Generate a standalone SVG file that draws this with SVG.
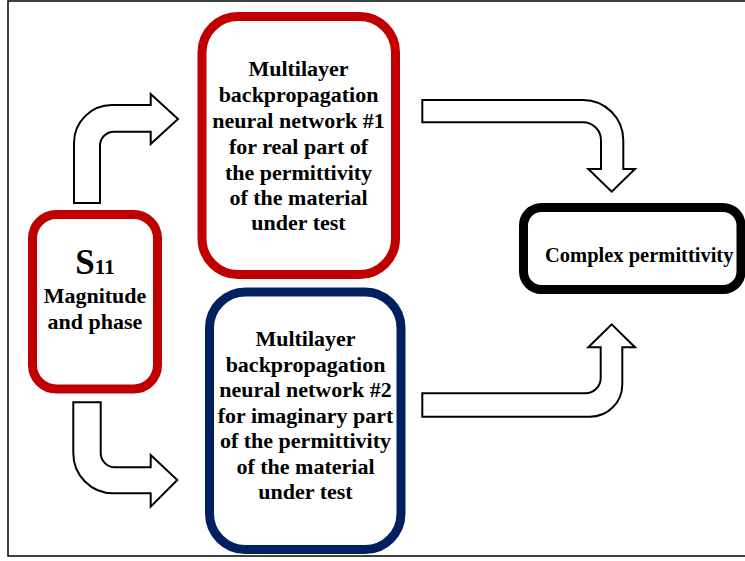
<svg xmlns="http://www.w3.org/2000/svg" width="745" height="561" viewBox="0 0 745 561">
<style>
.t{font-family:"Liberation Serif","Times New Roman",serif;font-weight:bold;font-size:22px;fill:#000;text-anchor:middle}
.arr{fill:#fff;stroke:#000;stroke-width:2;stroke-linejoin:miter}
</style>
<rect x="0" y="0" width="745" height="561" fill="#fff"/>
<rect x="8" y="1" width="800" height="555" fill="none" stroke="#000" stroke-width="1.5"/>
<g id="connectors">
<path class="arr" d="M74,203 V143 A38,38 0 0 1 112,105 H150.7 V94 L178,119 L150.7,144 V131.7 H114 A14,14 0 0 0 100,145.7 V203 Z"/>
<path class="arr" d="M73.3,402.3 V453 A40,40 0 0 0 113.3,493.3 H150.7 V506.7 L177.3,480 L150.7,455 V467.3 H115 A14.3,14.3 0 0 1 100.7,453 V402.3 Z"/>
<path class="arr" d="M422.3,100 H583 A40.3,40.3 0 0 1 623.3,140.3 V169 H635 L611.7,191.7 L588.3,169 H601 V140.3 A18,18 0 0 0 583,122.3 H422.3 Z"/>
<path class="arr" d="M422.3,416.7 H590 A32.3,32.3 0 0 0 622.3,384.4 V347.3 H635 L611.7,324.3 L588.3,347.3 H600.7 V378 A15.3,15.3 0 0 1 585.4,393.3 H422.3 Z"/>
</g>
<g id="s11">
<rect x="32.5" y="214.5" width="125" height="174.5" rx="24" fill="#fff" stroke="#C00000" stroke-width="9"/>
<text class="t" x="95" y="274"><tspan font-size="35">S</tspan><tspan font-size="21">11</tspan></text>
<text class="t" x="95" y="303">Magnitude</text>
<text class="t" x="95" y="329">and phase</text>
</g>
<g id="nn1">
<rect x="202" y="16.5" width="193.5" height="258" rx="36" fill="#fff" stroke="#C00000" stroke-width="9"/>
<text class="t" x="298.5" y="76">Multilayer</text>
<text class="t" x="298.5" y="102">backpropagation</text>
<text class="t" x="298.5" y="128">neural network #1</text>
<text class="t" x="298.5" y="154">for real part of</text>
<text class="t" x="298.5" y="180">the permittivity</text>
<text class="t" x="298.5" y="205">of the material</text>
<text class="t" x="298.5" y="230">under test</text>
</g>
<g id="nn2">
<rect x="209.5" y="292" width="191.5" height="257.5" rx="36" fill="#fff" stroke="#002060" stroke-width="9"/>
<text class="t" x="305.5" y="346">Multilayer</text>
<text class="t" x="305.5" y="372">backpropagation</text>
<text class="t" x="305.5" y="397">neural network #2</text>
<text class="t" x="305.5" y="423">for imaginary part</text>
<text class="t" x="305.5" y="448">of the permittivity</text>
<text class="t" x="305.5" y="474">of the material</text>
<text class="t" x="305.5" y="499">under test</text>
</g>
<g id="complex">
<rect x="523.5" y="207.5" width="217.5" height="82" rx="18" fill="#fff" stroke="#000" stroke-width="9"/>
<text class="t" x="545" y="262" style="text-anchor:start;font-size:20.5px">Complex permittivity</text>
</g>
</svg>
